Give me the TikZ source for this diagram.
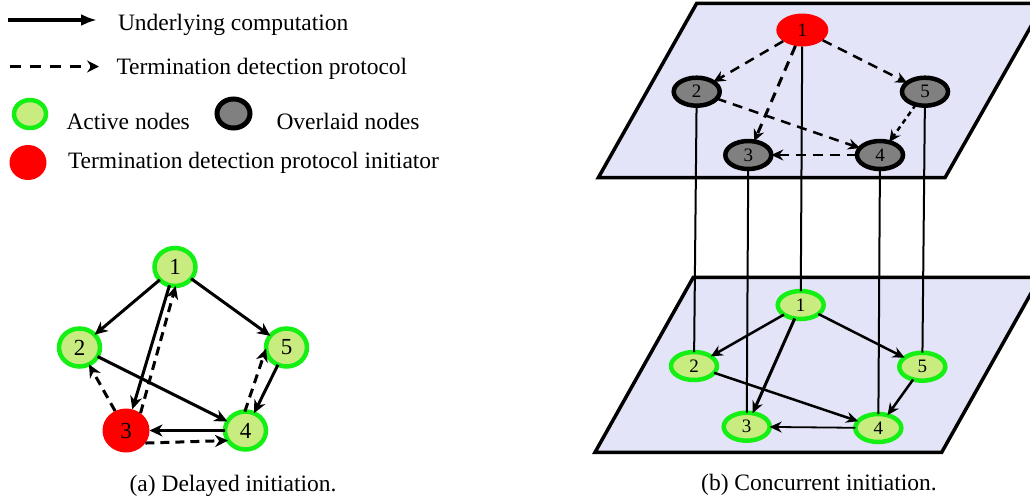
\documentclass[tikz,border=0pt]{standalone}
\usepackage{fontspec}
\setmainfont{Liberation Serif}
\usetikzlibrary{shapes.geometric,arrows.meta}

\definecolor{activefill}{RGB}{200,236,128}
\definecolor{activeborder}{RGB}{20,240,20}
\definecolor{planefill}{RGB}{228,228,248}
\definecolor{overlaidfill}{RGB}{128,128,128}
\definecolor{initred}{RGB}{255,0,0}

\tikzset{
  gtip/.tip={Stealth[length=13pt,width=12pt,inset=4pt]},
  ptip/.tip={Stealth[length=12pt,width=11pt,inset=4pt]},
  every node/.style={inner sep=0pt, outer sep=0pt},
  bigtext/.style={font=\fontsize{23.5}{27}\selectfont},
  % nodes of the delayed-initiation graph
  activeA/.style={ellipse, fill=activefill, draw=activeborder, line width=4.5pt,
    minimum width=41pt, minimum height=38pt, font=\fontsize{23}{25}\selectfont},
  initA/.style={ellipse, fill=initred, minimum width=47pt, minimum height=44pt,
    font=\fontsize{23}{25}\selectfont},
  % nodes of the concurrent-initiation planes
  activeB/.style={ellipse, fill=activefill, draw=activeborder, line width=4.5pt,
    minimum width=46pt, minimum height=28pt, font=\fontsize{19}{21}\selectfont},
  overB/.style={ellipse, fill=overlaidfill, draw=black, line width=4.5pt,
    minimum width=46pt, minimum height=28pt, font=\fontsize{19}{21}\selectfont},
  initB/.style={ellipse, fill=initred, minimum width=52pt, minimum height=33pt,
    font=\fontsize{19}{21}\selectfont},
  % connectors
  compA/.style={line width=3pt, -gtip},
  protoA/.style={compA, dash pattern=on 9pt off 6pt},
  compB/.style={line width=2.5pt, -ptip},
  protoB/.style={compB, dash pattern=on 10pt off 7pt},
  plane/.style={fill=planefill, draw=black, line width=3.5pt, line join=miter},
  link/.style={line width=2pt},
}

\begin{document}
\begin{tikzpicture}[x=1pt,y=-1pt]
\useasboundingbox (0,0) rectangle (1030,499);
\clip (0,0) rectangle (1030,499);

% ---------------- legend ----------------
\coordinate (ls0) at (8,20);
\coordinate (ls1) at (97,20);
\coordinate (ld0) at (10,66.5);
\coordinate (ld1) at (99,66.5);
\draw[line width=3.5pt, -{Latex[length=16pt,width=12pt]}] (ls0) -- (ls1);
\draw[line width=3.5pt, dash pattern=on 11pt off 9pt,
  -{Stealth[length=12pt,width=12pt,inset=4pt]}] (ld0) -- (ld1);
\node[bigtext, anchor=base west] (tl1) at (118,30.5) {Underlying computation};
\node[bigtext, anchor=base west] (tl2) at (116.5,74) {Termination detection protocol};
\node[ellipse, fill=activefill, draw=activeborder, line width=4.5pt,
  minimum width=32pt, minimum height=28pt] (lact) at (30,114) {};
\node[bigtext, anchor=base west] (tl3) at (66.5,129.5) {Active nodes};
\node[ellipse, fill=overlaidfill, draw=black, line width=5pt,
  minimum width=33pt, minimum height=29pt] (lover) at (233.5,113.5) {};
\node[bigtext, anchor=base west] (tl4) at (276.5,129.5) {Overlaid nodes};
\node[ellipse, fill=initred, minimum width=37pt, minimum height=35pt] (linit) at (28,162.5) {};
\node[bigtext, anchor=base west] (tl5) at (68,168.5) {Termination detection protocol initiator};

% ---------------- (a) delayed initiation ----------------
\node[activeA] (a1) at (175,267) {1};
\node[activeA] (a2) at (79.5,347.5) {2};
\node[activeA] (a5) at (286.5,347.5) {5};
\node[initA]   (a3) at (126,430.5) {3};
\node[activeA] (a4) at (245.5,430.5) {4};

\draw[compA] (a1) -- (a2);
\draw[compA] (a1) -- (a5);
\draw[compA] (a1) -- (a3);
\draw[compA] (a2) -- (a4);
\draw[compA] (a5) -- (a4);
\draw[compA, line width=2.3pt] (a4) -- (a3);
\draw[protoA] (a3.50) -- (a1.-88);
\draw[protoA] (a3) -- (a2);
\draw[protoA] (a3.-33) -- (a4.210);
\draw[protoA] (a4.92) -- (a5.183);

\node[bigtext, anchor=base] (capa) at (233,491.5) {(a) Delayed initiation.};

% ---------------- (b) concurrent initiation ----------------
\draw[plane] (696.7,3.3) -- (1044,3.3) -- (945,177.7) -- (598.3,177.7) -- cycle;
\draw[plane] (693.3,277.3) -- (1040,277.3) -- (941.7,452.3) -- (595,452.3) -- cycle;

% overlay layer
\node[initB] (t1) at (802.3,30) {1};
\node[overB] (t2) at (696.7,91.7) {2};
\node[overB] (t5) at (925,91.7) {5};
\node[overB] (t3) at (748.3,155) {3};
\node[overB] (t4) at (880,155) {4};

% underlying layer
\node[activeB] (b1) at (800.7,305) {1};
\node[activeB] (b2) at (694,366) {2};
\node[activeB] (b5) at (922.3,366.7) {5};
\node[activeB] (b3) at (746.7,426.7) {3};
\node[activeB] (b4) at (878.3,428) {4};

% vertical links between the layers
\draw[link] (t1) -- (b1);
\draw[link] (t2) -- (b2);
\draw[link] (t3) -- (b3);
\draw[link] (t4) -- (b4);
\draw[link] (t5) -- (b5);

% protocol messages on the overlay
\draw[protoB] (t1) -- (t2);
\draw[protoB] (t1) -- (t5);
\draw[protoB, line width=3pt] (t1) -- (t3);
\draw[protoB] (t2) -- (t4);
\draw[protoB, dash pattern=on 5pt off 4pt] (t5) -- (t4);
\draw[protoB, line width=1.8pt] (t4) -- (t3);

% computation messages on the underlying layer
\draw[compB] (b1) -- (b2);
\draw[compB] (b1) -- (b5);
\draw[compB, line width=3pt] (b1) -- (b3);
\draw[compB] (b2) -- (b4);
\draw[compB] (b5) -- (b4);
\draw[compB, line width=1.8pt] (b4) -- (b3);

\node[bigtext, anchor=base] (capb) at (819,490.5) {(b) Concurrent initiation.};
\end{tikzpicture}
\end{document}
